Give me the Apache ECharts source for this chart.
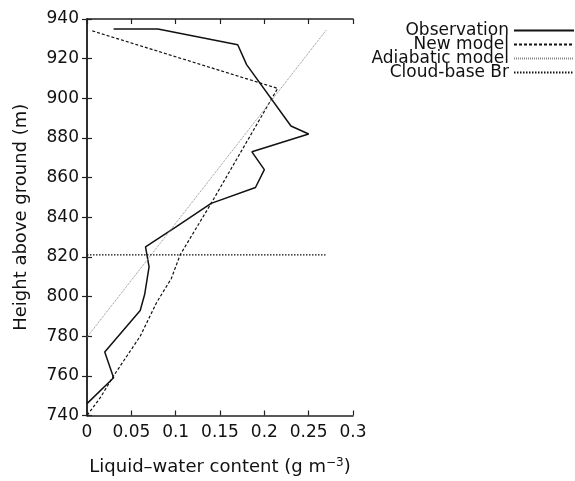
<!DOCTYPE html>
<html>
<head>
<meta charset="utf-8">
<script src="https://cdn.jsdelivr.net/npm/echarts@6/dist/echarts.min.js"></script>
<style>
  html, body { margin: 0; padding: 0; background: #fff; }
  #chart { width: 575px; height: 481px; }
</style>
</head>
<body>
<div id="chart"></div>
<script>
// values (x: g m^-3, y: m)
const obsX = [0.03, 0.08, 0.17, 0.18, 0.23, 0.25, 0.186, 0.2, 0.19, 0.14, 0.1, 0.066, 0.07, 0.065, 0.06, 0.02, 0.03, 0]
const obsY = [935, 935, 927, 917, 886, 882, 873, 864, 855, 847, 835, 825, 815, 801, 793, 772, 759, 746]
const newX = [0.006, 0.215, 0.14, 0.105, 0.095, 0.0785, 0.06, 0.045, 0.03, 0.015, 0]
const newY = [934, 905, 847, 821, 809, 797, 780, 770, 760, 749, 740]
const adiaX = [0, 0.27]
const adiaY = [779.5, 934.5]
const baseX = [0, 0.27]
const baseY = [821, 821]
const xTicks = [0, 0.05, 0.1, 0.15, 0.2, 0.25, 0.3]
const yTicks = [740, 760, 780, 800, 820, 840, 860, 880, 900, 920, 940]

const zip = (xs, ys) => xs.map((x, i) => [x, ys[i]])
const FONT = 'DejaVu Sans'

const axisLine = { show: true, lineStyle: { color: '#222', width: 1.5 } }
const tick = { show: true, inside: true, length: 5, lineStyle: { color: '#222', width: 1.2 } }

const chart = echarts.init(document.getElementById('chart'))
chart.setOption({
  backgroundColor: '#fff',
  animation: false,
  textStyle: { fontFamily: FONT },
  grid: { left: 87, right: 222, top: 19, bottom: 64 },
  legend: {
    orient: 'vertical',
    right: 0,
    top: 22,
    padding: 0,
    align: 'right',
    itemWidth: 60,
    itemHeight: 14,
    itemGap: -3,
    itemStyle: { opacity: 0 },
    textStyle: { fontFamily: FONT, fontSize: 17, color: '#111' },
    data: ['Observation', 'New model', 'Adiabatic model', 'Cloud-base Br']
  },
  xAxis: [
    {
      type: 'value', min: xTicks[0], max: xTicks[xTicks.length - 1], interval: 0.05,
      axisLine, axisTick: tick, splitLine: { show: false },
      axisLabel: { color: '#111', fontSize: 17, margin: 9, fontFamily: FONT },
      name: 'Liquid–water content (g m{sup|−3})',
      nameLocation: 'middle',
      nameGap: 41,
      nameTextStyle: {
        color: '#111', fontSize: 18, fontFamily: FONT,
        rich: { sup: { fontSize: 12, verticalAlign: 'top', padding: [0, 0, 9, 0], fontFamily: FONT, color: '#111' } }
      }
    },
    {
      type: 'value', position: 'top', min: xTicks[0], max: xTicks[xTicks.length - 1], interval: 0.05,
      axisLine, axisTick: tick, axisLabel: { show: false }, splitLine: { show: false }
    }
  ],
  yAxis: [
    {
      type: 'value', min: yTicks[0], max: yTicks[yTicks.length - 1], interval: 20,
      axisLine, axisTick: tick, splitLine: { show: false },
      axisLabel: { color: '#111', fontSize: 17, margin: 8, fontFamily: FONT },
      name: 'Height above ground (m)',
      nameLocation: 'middle',
      nameGap: 57,
      nameTextStyle: { color: '#111', fontSize: 18, fontFamily: FONT }
    },
    {
      type: 'value', position: 'right', min: yTicks[0], max: yTicks[yTicks.length - 1], interval: 20,
      axisLine, axisTick: tick, axisLabel: { show: false }, splitLine: { show: false }
    }
  ],
  series: [
    {
      name: 'Observation', type: 'line', data: zip(obsX, obsY), symbol: 'none',
      lineStyle: { color: '#111', width: 1.5 }, itemStyle: { color: '#111' }
    },
    {
      name: 'New model', type: 'line', data: zip(newX, newY), symbol: 'none',
      lineStyle: { color: '#111', width: 1.2, type: [3, 2] }, itemStyle: { color: '#111' }
    },
    {
      name: 'Adiabatic model', type: 'line', data: zip(adiaX, adiaY), symbol: 'none',
      lineStyle: { color: '#888', width: 1, type: [1, 1] }, itemStyle: { color: '#888' }
    },
    {
      name: 'Cloud-base Br', type: 'line', data: zip(baseX, baseY), symbol: 'none',
      lineStyle: { color: '#111', width: 1.2, type: [1.5, 1.5] }, itemStyle: { color: '#111' }
    }
  ]
})
</script>
</body>
</html>
